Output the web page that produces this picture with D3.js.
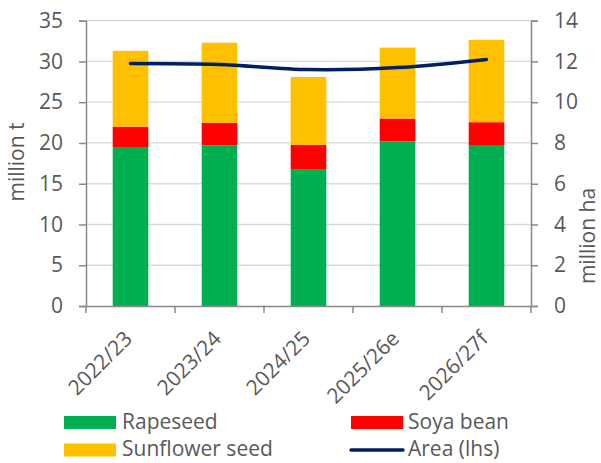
<!DOCTYPE html>
<html>
<head>
<meta charset="utf-8">
<script src="https://cdn.jsdelivr.net/npm/d3@7"></script>
<style>
  html, body { margin: 0; padding: 0; background: #fff; }
  svg { display: block; font-family: "Open Sans", "DejaVu Sans", sans-serif; }
</style>
</head>
<body>
<svg id="chart" width="601" height="463"></svg>
<script>
// Marketing years
const years = ["2022/23", "2023/24", "2024/25", "2025/26e", "2026/27f"];
// Production, million t
const rapeseed = [19.5, 19.7, 16.8, 20.2, 19.75];
const soyaBean = [2.5, 2.75, 2.95, 2.8, 2.8];
const sunflowerSeed = [9.3, 9.85, 8.35, 8.7, 10.1];
// Area, million ha (right-hand scale)
const area = [11.9, 11.85, 11.6, 11.7, 12.1];
// Axis ticks
const leftTicks = [0, 5, 10, 15, 20, 25, 30, 35];
const rightTicks = [0, 2, 4, 6, 8, 10, 12, 14];

const seriesNames = ["Rapeseed", "Soya bean", "Sunflower seed"];
const colors = { "Rapeseed": "#00b050", "Soya bean": "#ff0000", "Sunflower seed": "#ffc000", "Area (lhs)": "#002060" };
const textColor = "#595959";
const axisColor = "#898989";
const fs = "21px";

const svg = d3.select("#chart");
const m = { left: 86, right: 531, top: 20.7, bottom: 306 };

const x = d3.scaleBand().domain(years).range([m.left, m.right]).paddingInner(0.6).paddingOuter(0.3);
const yL = d3.scaleLinear().domain([0, 35]).range([m.bottom, m.top]);
const yR = d3.scaleLinear().domain([0, 14]).range([m.bottom, m.top]);

// Gridlines
svg.append("g").selectAll("line").data(leftTicks.filter(d => d > 0)).join("line")
  .attr("x1", m.left).attr("x2", m.right)
  .attr("y1", d => yL(d)).attr("y2", d => yL(d))
  .attr("stroke", "#d9d9d9").attr("stroke-width", 1.3);

// Stacked bars
const table = years.map((yr, i) => ({ year: yr, "Rapeseed": rapeseed[i], "Soya bean": soyaBean[i], "Sunflower seed": sunflowerSeed[i] }));
const stack = d3.stack().keys(seriesNames)(table);
svg.append("g").selectAll("g").data(stack).join("g")
  .attr("fill", s => colors[s.key])
  .selectAll("rect").data(s => s).join("rect")
  .attr("x", d => x(d.data.year))
  .attr("width", x.bandwidth())
  .attr("y", d => yL(d[1]))
  .attr("height", d => yL(d[0]) - yL(d[1]));

// Area line
const line = d3.line()
  .x((d, i) => x(years[i]) + x.bandwidth() / 2)
  .y(d => yR(d))
  .curve(d3.curveCatmullRom.alpha(0.5));
svg.append("path").datum(area)
  .attr("d", line)
  .attr("fill", "none")
  .attr("stroke", colors["Area (lhs)"])
  .attr("stroke-width", 3.5)
  .attr("stroke-linecap", "round");

// Axes
const leftAxis = svg.append("g").attr("transform", `translate(${m.left},0)`)
  .call(d3.axisLeft(yL).tickValues(leftTicks).tickSize(7).tickPadding(16));
const rightAxis = svg.append("g").attr("transform", `translate(${m.right},0)`)
  .call(d3.axisRight(yR).tickValues(rightTicks).tickSize(7).tickPadding(16));
const bottomAxis = svg.append("g").attr("transform", `translate(0,${m.bottom})`)
  .call(d3.axisBottom(x).tickSize(0).tickFormat(""));

// Category boundary ticks
const bounds = d3.range(years.length + 1).map(i => m.left + i * (m.right - m.left) / years.length);
bottomAxis.selectAll(".bound").data(bounds).join("line")
  .attr("class", "bound")
  .attr("x1", d => d).attr("x2", d => d)
  .attr("y1", 0).attr("y2", 7)
  .attr("stroke", axisColor).attr("stroke-width", 1.5);

[leftAxis, rightAxis, bottomAxis].forEach(g => {
  g.select(".domain").attr("stroke", axisColor).attr("stroke-width", 1.5);
  g.selectAll(".tick line").attr("stroke", axisColor).attr("stroke-width", 1.5);
  g.selectAll(".tick text").attr("fill", textColor).style("font-size", fs)
    .style("font-family", "\"Open Sans\", \"DejaVu Sans\", sans-serif");
});

// Rotated category labels
svg.append("g").selectAll("text").data(years).join("text")
  .attr("transform", d => `translate(${x(d) + x.bandwidth() / 2 + 3},${m.bottom + 34}) rotate(-45)`)
  .attr("text-anchor", "end")
  .attr("fill", textColor)
  .style("font-size", fs)
  .text(d => d);

// Axis titles
svg.append("text")
  .attr("transform", `translate(24,162) rotate(-90)`)
  .attr("text-anchor", "middle")
  .attr("fill", textColor).style("font-size", fs)
  .text("million t");
svg.append("text")
  .attr("transform", `translate(595,236) rotate(-90)`)
  .attr("text-anchor", "middle")
  .attr("fill", textColor).style("font-size", fs)
  .text("million ha");

// Legend
const legendItems = [
  { name: "Rapeseed", type: "rect", x: 64, y: 422.5 },
  { name: "Soya bean", type: "rect", x: 351, y: 422.5 },
  { name: "Sunflower seed", type: "rect", x: 64, y: 450 },
  { name: "Area (lhs)", type: "line", x: 351, y: 450 }
];
const lg = svg.append("g").selectAll("g").data(legendItems).join("g")
  .attr("transform", d => `translate(${d.x},${d.y})`);
lg.filter(d => d.type === "rect").append("rect")
  .attr("x", 0).attr("y", -6.5).attr("width", 52).attr("height", 13)
  .attr("fill", d => colors[d.name]);
lg.filter(d => d.type === "line").append("line")
  .attr("x1", 0).attr("x2", 52).attr("y1", 0).attr("y2", 0)
  .attr("stroke", d => colors[d.name]).attr("stroke-width", 3.5).attr("stroke-linecap", "round");
lg.append("text")
  .attr("x", d => d.x < 200 ? 58 : 57).attr("y", 6)
  .attr("fill", textColor).style("font-size", fs)
  .text(d => d.name);
</script>
</body>
</html>
